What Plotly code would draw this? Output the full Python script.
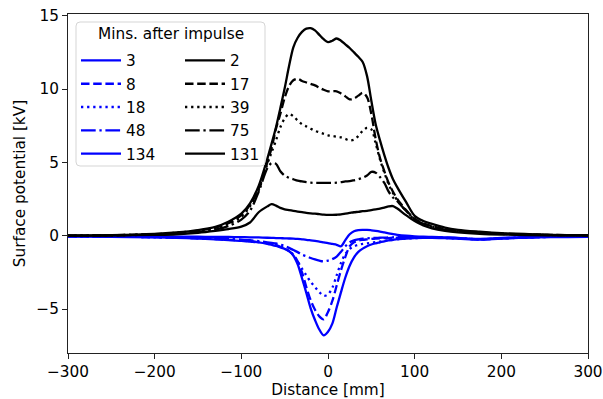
import plotly.graph_objects as go

# ---------------- data ----------------
distance_mm = [-300, -250, -200, -175, -150, -130, -115, -100, -90, -80, -70, -65, -60, -55, -50,
               -45, -40, -35, -30, -25, -20, -15, -10, -5, 0, 5, 10, 15, 20, 25, 30, 35, 40, 45,
               50, 55, 60, 65, 70, 75, 80, 90, 100, 110, 120, 135, 150, 175, 200, 250, 300]

# positive impulse (black)
pos_2 = [0.0, 0.03, 0.12, 0.22, 0.38, 0.6, 0.95, 1.5, 2.2, 3.4, 5.25, 6.3, 7.4, 8.7, 10.05,
         11.55, 12.85, 13.5, 13.9, 14.12, 14.15, 14.0, 13.7, 13.4, 13.2, 13.3, 13.45, 13.3, 13.05, 12.8, 12.5, 12.2, 11.85, 10.9,
         9.2, 7.6, 6.5, 5.5, 4.6, 3.85, 3.3, 2.3, 1.35, 1.0, 0.8, 0.55, 0.4, 0.27, 0.17, 0.07, 0.03]
pos_17 = [0.0, 0.03, 0.1, 0.2, 0.35, 0.55, 0.85, 1.4, 2.1, 3.2, 5.0, 6.0, 7.3, 8.3, 9.4,
          10.2, 10.6, 10.7, 10.55, 10.45, 10.35, 10.25, 10.1, 9.95, 9.85, 9.85, 9.85, 9.7, 9.5, 9.3, 9.35, 9.55, 9.75, 9.45,
          8.3, 6.6, 5.3, 4.4, 3.6, 3.0, 2.5, 1.75, 1.15, 0.85, 0.65, 0.45, 0.33, 0.22, 0.14, 0.06, 0.03]
pos_39 = [0.0, 0.03, 0.1, 0.18, 0.32, 0.5, 0.8, 1.3, 2.0, 3.1, 4.9, 5.7, 6.5, 7.4, 8.0,
          8.3, 8.15, 7.85, 7.6, 7.45, 7.3, 7.15, 7.05, 6.95, 6.85, 6.8, 6.75, 6.7, 6.6, 6.5, 6.55, 6.8, 7.15, 7.35,
          7.25, 6.3, 5.2, 4.3, 3.5, 2.9, 2.4, 1.7, 1.1, 0.8, 0.62, 0.43, 0.32, 0.2, 0.13, 0.05, 0.03]
pos_75 = [0.0, 0.02, 0.08, 0.14, 0.25, 0.42, 0.65, 1.1, 1.7, 3.0, 4.6, 4.95, 4.9, 4.4, 4.1,
          3.95, 3.85, 3.75, 3.7, 3.65, 3.62, 3.6, 3.6, 3.6, 3.6, 3.6, 3.62, 3.65, 3.7, 3.72, 3.78, 3.85, 3.95, 4.1,
          4.35, 4.3, 4.0, 3.6, 3.0, 2.6, 2.35, 1.7, 1.15, 0.8, 0.6, 0.4, 0.3, 0.2, 0.12, 0.05, 0.03]
pos_131 = [0.0, 0.02, 0.06, 0.1, 0.2, 0.33, 0.45, 0.62, 0.9, 1.6, 2.0, 2.15, 2.05, 1.9, 1.8,
           1.75, 1.7, 1.65, 1.6, 1.55, 1.52, 1.5, 1.47, 1.44, 1.42, 1.42, 1.43, 1.45, 1.5, 1.55, 1.6, 1.63, 1.67, 1.7,
           1.75, 1.8, 1.85, 1.92, 2.0, 2.02, 1.85, 1.4, 1.0, 0.7, 0.5, 0.33, 0.23, 0.13, 0.08, 0.03, 0.02]

# negative impulse (blue)
neg_3 = [-0.05, -0.08, -0.12, -0.15, -0.2, -0.25, -0.3, -0.35, -0.4, -0.45, -0.55, -0.62, -0.7, -0.8, -0.9,
         -1.05, -1.35, -1.95, -2.9, -3.9, -4.95, -5.75, -6.4, -6.8, -6.55, -6.0, -4.9, -3.85, -2.85, -2.05, -1.48, -1.1, -0.88, -0.72,
         -0.6, -0.52, -0.45, -0.38, -0.32, -0.28, -0.24, -0.2, -0.17, -0.15, -0.15, -0.17, -0.2, -0.27, -0.2, -0.1, -0.07]
neg_8 = [-0.05, -0.07, -0.1, -0.13, -0.18, -0.23, -0.28, -0.33, -0.38, -0.43, -0.52, -0.58, -0.65, -0.75, -0.88,
         -1.05, -1.32, -1.75, -2.5, -3.5, -4.4, -5.05, -5.5, -5.7, -5.2, -4.45, -3.4, -2.35, -1.45, -0.72, -0.45, -0.33, -0.28, -0.25,
         -0.22, -0.2, -0.18, -0.17, -0.16, -0.15, -0.14, -0.13, -0.12, -0.12, -0.13, -0.15, -0.18, -0.25, -0.18, -0.09, -0.06]
neg_18 = [-0.05, -0.07, -0.1, -0.13, -0.17, -0.22, -0.27, -0.32, -0.37, -0.42, -0.5, -0.56, -0.63, -0.73, -0.85,
          -1.05, -1.3, -1.75, -2.25, -2.7, -3.15, -3.5, -3.85, -4.1, -4.0, -3.55, -2.7, -1.85, -1.25, -0.9, -0.72, -0.62, -0.56, -0.52,
          -0.48, -0.44, -0.4, -0.36, -0.32, -0.28, -0.25, -0.2, -0.17, -0.15, -0.14, -0.16, -0.19, -0.26, -0.19, -0.09, -0.06]
neg_48 = [-0.04, -0.06, -0.09, -0.11, -0.14, -0.18, -0.22, -0.27, -0.31, -0.37, -0.45, -0.49, -0.53, -0.6, -0.7,
          -0.83, -0.98, -1.12, -1.3, -1.4, -1.52, -1.62, -1.7, -1.75, -1.7, -1.6, -1.42, -1.1, -0.72, -0.45, -0.32, -0.25, -0.2, -0.18,
          -0.16, -0.15, -0.14, -0.13, -0.12, -0.11, -0.1, -0.1, -0.1, -0.1, -0.11, -0.13, -0.16, -0.23, -0.17, -0.08, -0.05]
neg_134 = [-0.03, -0.04, -0.05, -0.06, -0.07, -0.08, -0.09, -0.1, -0.11, -0.12, -0.14, -0.15, -0.16, -0.17, -0.18,
           -0.19, -0.2, -0.22, -0.25, -0.28, -0.32, -0.36, -0.4, -0.45, -0.5, -0.56, -0.62, -0.72, -0.3, 0.1, 0.3, 0.38, 0.4, 0.4,
           0.37, 0.33, 0.28, 0.22, 0.16, 0.1, 0.06, 0.0, -0.04, -0.07, -0.09, -0.12, -0.15, -0.22, -0.15, -0.08, -0.05]

neg_labels = ["3", "8", "18", "48", "134"]
pos_labels = ["2", "17", "39", "75", "131"]
neg_series = [neg_3, neg_8, neg_18, neg_48, neg_134]
pos_series = [pos_2, pos_17, pos_39, pos_75, pos_131]
legend_title = "Mins. after impulse"

# ---------------- styling ----------------
LW = 2.3
dashes = ["solid", "8.5px,3.7px", "2.3px,3.8px", "14.7px,3.7px,2.3px,3.7px", "solid"]
FONT = "DejaVu Sans"
FS = 15.3

W, H = 603, 399
L, R, T, B = 68, 15, 14, 46
PW, PH = W - L - R, H - T - B


def px_to_paper(px, py):
    return (px - L) / PW, (H - B - py) / PH


fig = go.Figure()
for i, (lab, ys) in enumerate(zip(neg_labels, neg_series)):
    fig.add_trace(go.Scatter(x=distance_mm, y=ys, mode="lines", name=lab,
                             line=dict(color="#0000ff", width=LW, dash=dashes[i], shape="spline", smoothing=0.9),
                             legend="legend", legendgroup="n" + lab))
for i, (lab, ys) in enumerate(zip(pos_labels, pos_series)):
    fig.add_trace(go.Scatter(x=distance_mm, y=ys, mode="lines", name=lab,
                             line=dict(color="#000000", width=LW, dash=dashes[i], shape="spline", smoothing=0.9),
                             legend="legend2", legendgroup="p" + lab))

# legend frame (rounded)
x0, y1 = px_to_paper(76, 22)
x1, y0 = px_to_paper(265, 166)
rx, ry = 4 / PW, 4 / PH
path = (f"M{x0+rx},{y1} L{x1-rx},{y1} Q{x1},{y1} {x1},{y1-ry} L{x1},{y0+ry} Q{x1},{y0} {x1-rx},{y0} "
        f"L{x0+rx},{y0} Q{x0},{y0} {x0},{y0+ry} L{x0},{y1-ry} Q{x0},{y1} {x0+rx},{y1} Z")
fig.add_shape(type="path", path=path, xref="paper", yref="paper", layer="above",
              fillcolor="rgba(255,255,255,0.8)", line=dict(color="#d5d5d5", width=1))

tx, ty = px_to_paper(170.5, 34)
fig.add_annotation(text=legend_title, x=tx, y=ty, xref="paper", yref="paper", showarrow=False,
                   xanchor="center", yanchor="middle", font=dict(family=FONT, size=FS, color="black"))

lx1, ly = px_to_paper(76, 44)
lx2, _ = px_to_paper(180, 44)
leg_common = dict(bgcolor="rgba(0,0,0,0)", borderwidth=0, xanchor="left", yanchor="top",
                  font=dict(family=FONT, size=FS, color="black"), tracegroupgap=0.4, itemwidth=40,
                  traceorder="grouped")

fig.update_layout(
    width=W, height=H,
    margin=dict(l=L, r=R, t=T, b=B, autoexpand=False),
    paper_bgcolor="white", plot_bgcolor="white",
    font=dict(family=FONT, size=FS, color="black"),
    showlegend=True,
    legend=dict(x=lx1, y=ly, **leg_common),
    legend2=dict(x=lx2, y=ly, **leg_common),
    xaxis=dict(range=[-300, 300], tickvals=[-300, -200, -100, 0, 100, 200, 300],
               ticks="outside", ticklen=5, tickwidth=1, tickcolor="#222",
               showline=True, linecolor="#222", linewidth=1.1, mirror=True,
               showgrid=False, zeroline=False, tickfont=dict(family=FONT, size=FS),
               title=dict(text="Distance [mm]", font=dict(family=FONT, size=FS), standoff=2)),
    yaxis=dict(range=[-8.0, 15.12], tickvals=[-5, 0, 5, 10, 15],
               ticks="outside", ticklen=5, tickwidth=1, tickcolor="#222",
               showline=True, linecolor="#222", linewidth=1.1, mirror=True,
               showgrid=False, zeroline=False, tickfont=dict(family=FONT, size=FS),
               title=dict(text="Surface potential [kV]", font=dict(family=FONT, size=FS), standoff=6)),
)

fig.write_html("out.html")
